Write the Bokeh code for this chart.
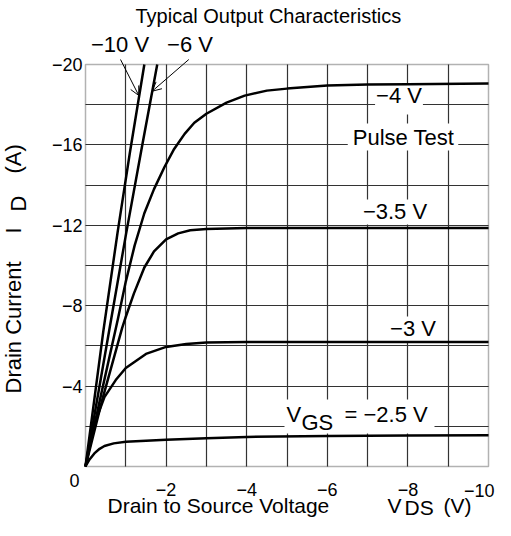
from bokeh.plotting import figure
from bokeh.models import Range1d, FixedTicker, Label, Arrow, OpenHead, BoxAnnotation
from bokeh.embed import file_html
from bokeh.resources import INLINE

# ---------------- data (VDS in V, ID in A) ----------------
vds_m10 = [0, -0.44, -0.80, -1.10, -1.46]
id_m10 = [0, -6.7, -11.7, -15.6, -20.0]

vds_m6 = [0, -0.60, -1.00, -1.40, -1.78]
id_m6 = [0, -6.9, -11.5, -15.9, -20.0]

vds_m4 = [0, -0.4, -0.8, -1.0, -1.22, -1.46, -1.7, -1.96, -2.2, -2.46, -2.7, -3.0, -3.5, -3.95, -4.5, -5, -6, -7, -8, -10]
id_m4 = [0, -3.7, -7.3, -9.2, -11.0, -12.6, -13.8, -14.9, -15.8, -16.55, -17.1, -17.55, -18.1, -18.45, -18.7, -18.8, -18.95, -19.0, -19.02, -19.05]

vds_m35 = [0, -0.4, -0.91, -1.0, -1.2, -1.46, -1.7, -2.0, -2.3, -2.6, -3.0, -4.0, -10]
id_m35 = [0, -3.2, -6.9, -7.45, -8.6, -9.9, -10.7, -11.3, -11.6, -11.75, -11.82, -11.86, -11.86]

vds_m3 = [0, -0.22, -0.47, -0.75, -1.0, -1.5, -2.0, -2.5, -3.0, -4.0, -10]
id_m3 = [0, -2.1, -3.45, -4.3, -4.9, -5.6, -5.95, -6.1, -6.17, -6.2, -6.2]

vds_m25 = [0, -0.1, -0.22, -0.35, -0.47, -0.7, -1.0, -2.0, -3.0, -4.0, -6.0, -8.0, -10]
id_m25 = [0, -0.35, -0.65, -0.88, -1.02, -1.15, -1.23, -1.33, -1.41, -1.47, -1.52, -1.54, -1.55]

x_ticks = [-2, -4, -6, -8, -10]
x_tick_labels = ["\u22122", "\u22124", "\u22126", "\u22128", "\u221210"]
y_ticks = [-4, -8, -12, -16, -20]
y_tick_labels = ["\u22124", "\u22128", "\u221212", "\u221216", "\u221220"]
x_grid = [-1, -2, -3, -4, -5, -6, -7, -8, -9]
y_grid = [-2, -4, -6, -8, -10, -12, -14, -16, -18]
x_limits = (0, -10)
y_limits = (0, -20)

# ---------------- layout (pixel positions of the plot area) ----------------
W, H = 495, 520
FL, FR, FT, FB = 85.0, 488.0, 64.0, 466.0
SHIFT = 0.39  # em; compensates the baseline offset of the svg text


def dx(px):
    return x_limits[0] + (px - FL) * (x_limits[1] - x_limits[0]) / (FR - FL)


def dy(py):
    return y_limits[0] + (FB - py) * (y_limits[1] - y_limits[0]) / (FB - FT)


FONT = "Liberation Sans"

p = figure(width=W, height=H,
           x_range=Range1d(dx(0), dx(W)), y_range=Range1d(dy(H), dy(0)),
           output_backend="svg", toolbar_location=None,
           min_border_left=0, min_border_right=0,
           min_border_top=0, min_border_bottom=0)
p.title.visible = False
p.background_fill_color = "white"
p.border_fill_color = "white"
p.outline_line_color = None

for ax in (p.xaxis, p.yaxis):
    ax.fixed_location = 0
    ax.axis_line_color = None
    ax.major_tick_out = 0
    ax.major_tick_in = 0
    ax.minor_tick_out = 0
    ax.minor_tick_in = 0
    ax.major_label_text_font = FONT
    ax.major_label_text_font_size = "18px"
    ax.major_label_text_color = "black"

p.xaxis.ticker = FixedTicker(ticks=x_ticks[:-1])
p.xaxis.major_label_overrides = dict(zip(x_ticks, x_tick_labels))
p.xaxis.major_label_standoff = 16
p.yaxis.ticker = FixedTicker(ticks=y_ticks)
p.yaxis.major_label_overrides = dict(zip(y_ticks, y_tick_labels))
p.yaxis.major_label_standoff = 3

p.xgrid.ticker = FixedTicker(ticks=x_grid)
p.xgrid.cross_bounds = y_limits
p.ygrid.ticker = FixedTicker(ticks=y_grid)
p.ygrid.cross_bounds = x_limits
for g in (p.xgrid, p.ygrid):
    g.grid_line_color = "#333333"
    g.grid_line_width = 1.2

# plot-area border
p.add_layout(BoxAnnotation(left=x_limits[0], right=x_limits[1], bottom=y_limits[0], top=y_limits[1],
                           fill_alpha=0, line_color="black", line_width=1.5, level="underlay"))

# ---------------- curves ----------------
for xs, ys in [(vds_m10, id_m10), (vds_m6, id_m6), (vds_m4, id_m4),
               (vds_m35, id_m35), (vds_m3, id_m3), (vds_m25, id_m25)]:
    p.line(xs, ys, line_color="black", line_width=2.5, line_join="round")


def lab(px, py, text, size=22, align="center", angle=0, bg=False, pad=None, level="annotation"):
    if angle == 0:
        py = py - SHIFT * size
    else:
        px = px - SHIFT * size
    kw = dict(x=dx(px), y=dy(py), text=text, text_font=FONT, text_font_size=f"{size}px",
              text_align=align, text_baseline="alphabetic", text_color="black",
              angle=angle, angle_units="deg", level=level)
    if bg:
        kw["background_fill_color"] = "white"
        kw["padding"] = pad if pad is not None else 0
    l = Label(**kw)
    p.add_layout(l)
    return l


# white mask behind the VGS label group
p.add_layout(BoxAnnotation(left=dx(284), right=dx(434), top=dy(399), bottom=dy(433),
                           fill_color="white", fill_alpha=1.0, line_color=None, level="underlay"))

# in-plot labels with white background
lab(398.5, 107, "\u22124 V", bg=True, pad=dict(left=1, right=1, top=0, bottom=6), level="underlay")
lab(402.5, 145, "Pulse Test", bg=True, pad=dict(left=5, right=4, top=2, bottom=0), level="underlay")
lab(394.5, 220, "\u22123.5 V", bg=True, pad=dict(left=1, right=1, top=0, bottom=0), level="underlay")
lab(412.5, 337, "\u22123 V", bg=True, pad=dict(left=1, right=1, top=0, bottom=0), level="underlay")
lab(286, 423, "V", align="left")
lab(301, 431, "GS", align="left")
lab(344, 423, "= \u22122.5 V", align="left")

# labels above the plot area with arrows
lab(119.5, 53, "\u221210 V")
lab(189.5, 53, "\u22126 V")
p.add_layout(Arrow(x_start=dx(120), y_start=dy(59), x_end=dx(138.3), y_end=dy(95),
                   line_width=1, line_color="black",
                   end=OpenHead(size=9, line_width=1, line_color="black")))
p.add_layout(Arrow(x_start=dx(188.3), y_start=dy(59), x_end=dx(151.7), y_end=dy(90.7),
                   line_width=1, line_color="black",
                   end=OpenHead(size=9, line_width=1, line_color="black")))

# title
lab(135, 23, "Typical Output Characteristics", size=20, align="left")

# corner zero and last x tick label (kept inside the canvas)
lab(74, 487, "0", size=18)
lab(494, 497, x_tick_labels[-1], size=18, align="right")

# x axis title
lab(107, 513.5, "Drain to Source Voltage", size=21, align="left")
lab(387, 513.5, "V", size=21, align="left")
lab(404, 515.5, "DS", size=21, align="left")
lab(443, 513.5, "(V)", size=21, align="left")

# y axis title (rotated)
lab(22, 393, "Drain Current", align="left", angle=90)
lab(22, 233, "I", align="left", angle=90)
lab(27, 211, "D", align="left", angle=90)
lab(22, 173, "(A)", align="left", angle=90)

open("out.html", "w").write(file_html(p, INLINE))
